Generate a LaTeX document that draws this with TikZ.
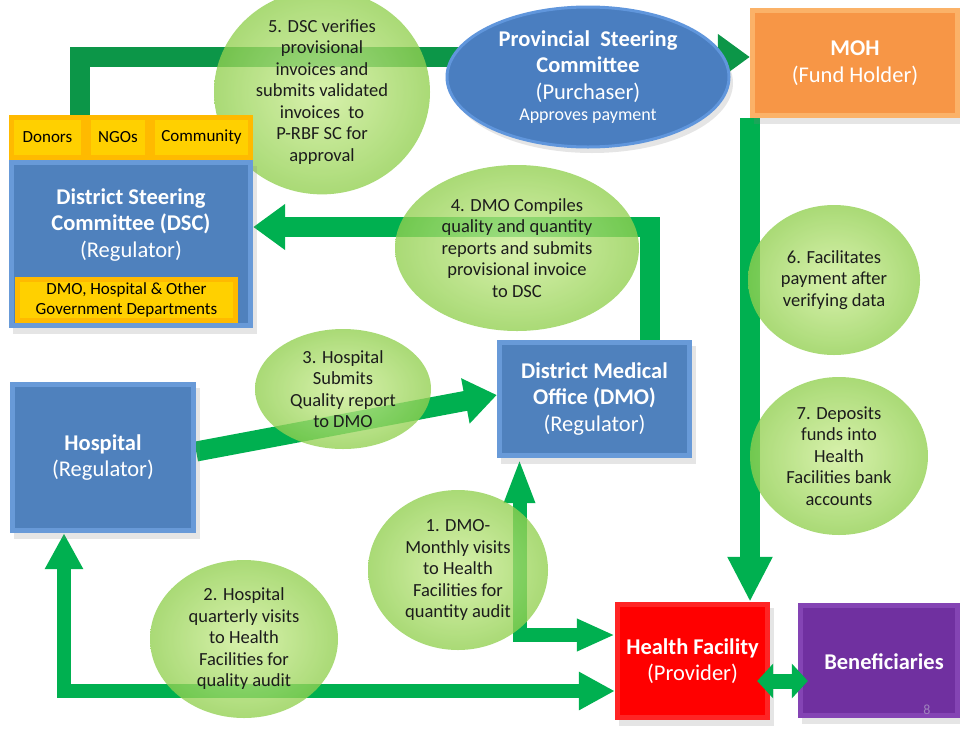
\documentclass[tikz,border=0pt]{standalone}
\usepackage{fontspec}
\setmainfont{Carlito}
\usetikzlibrary{arrows.meta,shadows,backgrounds,shapes.geometric}

\definecolor{arrowgreen}{RGB}{0,176,80}
\definecolor{topgreen}{RGB}{12,150,72}
\definecolor{boxblue}{RGB}{79,129,189}
\definecolor{bevelblue}{RGB}{104,154,216}
\definecolor{ovalblue}{RGB}{74,126,192}
\definecolor{ovaledge}{RGB}{96,150,220}
\definecolor{mohorange}{RGB}{247,150,70}
\definecolor{mohbevel}{RGB}{251,178,104}
\definecolor{hfred}{RGB}{255,0,0}
\definecolor{hfbevel}{RGB}{255,36,36}
\definecolor{benpurple}{RGB}{112,48,160}
\definecolor{benbevel}{RGB}{132,68,180}
\definecolor{tagyellow}{RGB}{255,208,0}
\definecolor{tagedge}{RGB}{255,186,0}
\definecolor{bubblein}{RGB}{206,238,150}
\definecolor{bubbleout}{RGB}{146,208,80}
\definecolor{bubbletext}{RGB}{28,28,28}
\definecolor{pagenum}{RGB}{160,130,190}

\begin{document}
\begin{tikzpicture}[x=1pt,y=-1pt,
  % bevelled rectangle: #1 face colour, #2 rim colour
  box/.style 2 args={rectangle, inner sep=0pt, fill=#2, text=white, align=center,
    font=\fontsize{22.5}{26.5}\selectfont,
    path picture={\fill[#1] ([shift={(5pt,-5pt)}]path picture bounding box.north west)
      rectangle ([shift={(-5pt,5pt)}]path picture bounding box.south east);}},
  shadowed/.style={drop shadow={shadow xshift=4pt, shadow yshift=-6pt, opacity=0.2}},
  tag/.style={box={tagyellow}{tagedge}, text=black, font=\fontsize{17}{20}\selectfont},
  bubble/.style={ellipse, inner sep=0pt, shade, inner color=bubblein, outer color=bubbleout,
    fill opacity=0.78, text opacity=1, text=bubbletext, align=center,
    font=\fontsize{18.5}{21.5}\selectfont},
  conn/.style={draw=arrowgreen, line width=20pt, -{Triangle[width=44pt,length=32pt]}},
  slimconn/.style={draw=arrowgreen, line width=14pt,
    {Triangle[width=34pt,length=38pt]}-{Triangle[width=34pt,length=38pt]}},
]
\useasboundingbox (0,0) rectangle (960,734);

% step 5 sits behind the district committee block
\node[bubble, minimum width=216pt, minimum height=172pt] (step5) at (322,92)
  {5. DSC verifies\\provisional\\invoices and\\submits validated\\invoices~ to\\P-RBF SC for\\approval};

% ---- organisations ----
\node[box={boxblue}{bevelblue}, shadowed, minimum width=244pt, minimum height=168pt] (dsc) at (131,244) {};
\node[text=white, align=center, font=\fontsize{22.5}{26.5}\selectfont] (dsctitle) at (131,225)
  {\textbf{District Steering}\\\textbf{Committee (DSC)}\\(Regulator)};
\node[tag, minimum width=77pt, minimum height=45pt] (donors) at (47.5,137.5) {Donors};
\node[tag, minimum width=64pt, minimum height=45pt] (ngos) at (118,137.5) {NGOs};
\node[tag, minimum width=103pt, minimum height=45pt] (community) at (201.5,137.5) {Community};
\node[tag, minimum width=223pt, minimum height=46pt] (govdepts) at (126.5,300)
  {DMO, Hospital \& Other\\Government Departments};

\node[ellipse, fill=ovalblue, draw=ovaledge, line width=3pt, shadowed, inner sep=0pt,
  minimum width=282pt, minimum height=140pt, text=white, align=center,
  font=\fontsize{22.5}{26.5}\selectfont] (psc) at (588,77)
  {\textbf{Provincial~ Steering}\\\textbf{Committee}\\(Purchaser)\\[-5pt]{\fontsize{18}{20}\selectfont Approves payment}};

\node[box={mohorange}{mohbevel}, shadowed, minimum width=210pt, minimum height=110pt] (moh) at (855,63)
  {\textbf{MOH}\\(Fund Holder)};

\node[box={boxblue}{bevelblue}, shadowed, minimum width=195pt, minimum height=118pt] (dmo) at (594.5,399)
  {\textbf{District Medical}\\\textbf{Office (DMO)}\\(Regulator)};

\node[box={boxblue}{bevelblue}, shadowed, minimum width=186pt, minimum height=151pt] (hosp) at (103,457.5)
  {\textbf{Hospital}\\(Regulator)};

\node[box={hfred}{hfbevel}, shadowed, minimum width=155pt, minimum height=118pt] (hf) at (692.5,661)
  {\textbf{Health Facility}\\(Provider)};

\node[box={benpurple}{benbevel}, shadowed, minimum width=162pt, minimum height=115pt] (ben) at (879,660.5) {};
\node[text=white, font=\fontsize{22.5}{26.5}\selectfont\bfseries] (bentitle) at (884,662) {Beneficiaries};
\node[text=pagenum, font=\fontsize{14}{16}\selectfont] (pageno) at (927,710) {8};

\coordinate (mohout) at ([xshift=-105pt]moh.south);

% ---- flows, kept behind the boxes ----
\begin{pgfonlayer}{background}
\fill[white] (0,0) rectangle (960,734);
% DSC to the provincial committee and on to MOH
\draw[conn, draw=topgreen] ([xshift=-6pt]donors.north east) |- ([yshift=6pt]moh.west);
% MOH pays the health facility
\draw[conn, -{Triangle[width=42pt,length=45pt]}] (mohout) -- (mohout |- hf.north);
% DMO reports to DSC
\draw[conn] ([xshift=55pt]dmo.north) |- ([yshift=17pt]dsc.east);
% Hospital reports to DMO
\draw[conn] ([yshift=6pt]hosp.east) -- ([yshift=4pt]dmo.west);
% DMO monthly visits
\draw[slimconn, {Triangle[width=28pt,length=45pt]}-{Triangle[width=30pt,length=38pt]}]
  ([xshift=-75pt]dmo.south) |- ([yshift=26pt]hf.west);
% Hospital quarterly visits
\draw[slimconn, {Triangle[width=36pt,length=36pt]}-{Triangle[width=36pt,length=36pt]}]
  ([xshift=-39pt]hosp.south) |- ([yshift=-30pt]hf.west);
\end{pgfonlayer}

% services to beneficiaries
\draw[draw=arrowgreen, line width=15pt,
  {Triangle[width=34pt,length=16pt]}-{Triangle[width=34pt,length=16pt]}]
  ([xshift=-13pt,yshift=-20pt]hf.east) -- ([xshift=10pt,yshift=-20.5pt]ben.west);

% ---- remaining steps ----
\node[bubble, minimum width=244pt, minimum height=166pt] (step4) at (517,248)
  {4. DMO Compiles\\quality and quantity\\reports and submits\\provisional invoice\\to DSC};
\node[bubble, minimum width=176pt, minimum height=120pt] (step3) at (343,389)
  {3. Hospital\\Submits\\Quality report\\to DMO};
\node[bubble, minimum width=172pt, minimum height=150pt] (step6) at (834,280)
  {6. Facilitates\\payment after\\verifying data};
\node[bubble, minimum width=178pt, minimum height=158pt] (step7) at (839,456)
  {7. Deposits\\funds into\\Health\\Facilities bank\\accounts};
\node[bubble, minimum width=180pt, minimum height=160pt] (step1) at (458,570)
  {1. DMO-\\Monthly visits\\to Health\\Facilities for\\quantity audit};
\node[bubble, minimum width=188pt, minimum height=158pt] (step2) at (244,639)
  {2. Hospital\\quarterly visits\\to Health\\Facilities for\\quality audit};
\end{tikzpicture}
\end{document}
